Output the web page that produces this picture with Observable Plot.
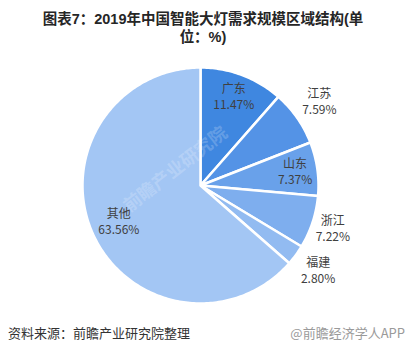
<!DOCTYPE html>
<html><head><meta charset="utf-8">
<script src="https://cdn.jsdelivr.net/npm/d3@7"></script>
<script src="https://cdn.jsdelivr.net/npm/@observablehq/plot@0.6"></script>
<style>
body{margin:0;width:406px;height:355px;background:#fff;font-family:"Noto Sans CJK SC","Noto Sans",sans-serif;position:relative;overflow:hidden}
.t{position:absolute;left:0;width:406px;text-align:center;font-family:"Liberation Sans","Noto Sans CJK SC",sans-serif;font-weight:bold;font-size:14.5px;line-height:17px;color:#262626;white-space:nowrap}
#chart{position:absolute;top:48px;left:0}
#foot{position:absolute;top:325px;left:8px;font-size:13px;line-height:16px;color:#333}
#brand{position:absolute;top:325px;right:1px;font-size:13px;line-height:16px;color:#9a9a9a}
</style></head>
<body>
<div class="t" style="top:11px">图表7：2019年中国智能大灯需求规模区域结构(单</div>
<div class="t" style="top:29px">位：%)</div>
<div id="chart"></div>
<div id="foot">资料来源：前瞻产业研究院整理</div>
<div id="brand">@前瞻经济学人APP</div>
<script>
const regions = ["广东", "江苏", "山东", "浙江", "福建", "其他"];
const shares = [11.47, 7.59, 7.37, 7.22, 2.80, 63.56];
const colors = ["#3f87e0", "#5493e6", "#69a1ea", "#7eaeee", "#92bbf1", "#a3c6f4"];
const labelRadius = [0.80, 1.23, 0.81, 1.18, 1.235, 0.76];

const total = d3.sum(shares);
let acc = 0;
const slices = regions.map((name, i) => {
  const a0 = acc / total * 2 * Math.PI;
  acc += shares[i];
  const a1 = acc / total * 2 * Math.PI;
  return {name, value: shares[i], a0, a1, mid: (a0 + a1) / 2, i};
});

const pts = [];
for (const s of slices) {
  pts.push({name: s.name, x: 0, y: 0});
  const n = Math.max(2, Math.ceil((s.a1 - s.a0) / (Math.PI / 180)));
  for (let k = 0; k <= n; k++) {
    const a = s.a0 + (s.a1 - s.a0) * k / n;
    pts.push({name: s.name, x: Math.sin(a), y: Math.cos(a)});
  }
}

const labels = slices.map(s => ({
  name: s.name,
  pct: s.value.toFixed(2) + "%",
  x: labelRadius[s.i] * Math.sin(s.mid),
  y: labelRadius[s.i] * Math.cos(s.mid)
}));

const chart = Plot.plot({
  width: 406,
  height: 270,
  margin: 0,
  x: {domain: [-1, 1], range: [82, 318], axis: null},
  y: {domain: [-1, 1], range: [255, 19], axis: null},
  color: {domain: regions, range: colors},
  style: {fontFamily: '"Noto Sans CJK SC", sans-serif', background: "#fff"},
  marks: [
    Plot.line(pts, {x: "x", y: "y", z: "name", fill: "name", stroke: "white", strokeWidth: 2.5, curve: "linear-closed"}),
    Plot.text(["前瞻产业研究院"], {frameAnchor: "middle", dx: -28, dy: -14, rotate: -38, fontSize: 18, fontWeight: "bold", fill: "white", fillOpacity: 0.2}),
    Plot.text(labels, {x: "x", y: "y", text: "name", dy: -8, fontSize: 12, fill: "#404040"}),
    Plot.text(labels, {x: "x", y: "y", text: "pct", dy: 8, fontSize: 12, fill: "#404040"})
  ]
});
document.getElementById("chart").appendChild(chart);
</script>
</body></html>
